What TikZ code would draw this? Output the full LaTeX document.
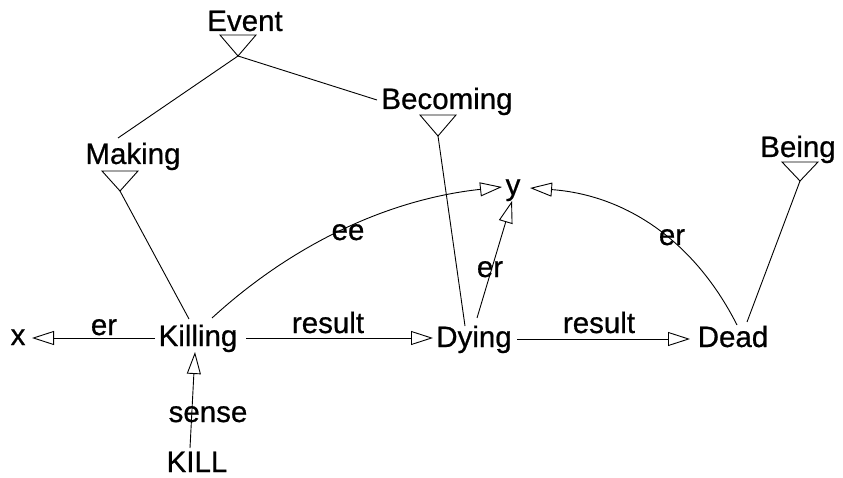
\documentclass[tikz,border=0pt]{standalone}
\usepackage{fontspec}
\setmainfont{Liberation Sans}
\newfontfamily\lblfont{Liberation Sans}[FakeBold=0.7]
\usetikzlibrary{arrows.meta}
\begin{document}
\begin{tikzpicture}[x=1pt,y=-1pt,
  lbl/.style={anchor=base,inner sep=0pt,font=\lblfont\fontsize{29.5}{31}\selectfont},
  conn/.style={line width=0.9pt},
  arr/.style={conn,-{Triangle[open,length=22pt,width=14pt]}},
  isatri/.style={line width=0.9pt,line join=miter}]
\path[use as bounding box] (0,0) rectangle (843,478);

% words
\node[lbl] (event) at (245,31) {Event};
\node[lbl] (making) at (133,164) {Making};
\node[lbl] (becoming) at (447,109) {Becoming};
\node[lbl] (being) at (798,157) {Being};
\node[lbl] (y) at (513,195) {y};
\node[lbl] (x) at (18,345) {x};
\node[lbl] (killing) at (198,346) {Killing};
\node[lbl] (dying) at (474,347) {Dying};
\node[lbl] (dead) at (733,347) {Dead};
\node[lbl] (kill) at (197,472) {KILL};

% isa triangles
\coordinate (eventA) at (238,56);
\coordinate (makingA) at (120,191);
\coordinate (becomingA) at (438,136);
\coordinate (beingA) at (800,181);
\draw[isatri] (eventA) -- ++(-18,-21) -- ++(36,0) -- cycle;
\draw[isatri] (makingA) -- ++(-18,-20) -- ++(36,0) -- cycle;
\draw[isatri] (becomingA) -- ++(-18,-21) -- ++(36,0) -- cycle;
\draw[isatri] (beingA) -- ++(-18,-19) -- ++(36,0) -- cycle;

% isa lines
\coordinate (makingTop) at (118,138);
\coordinate (becomingL) at (377,100);
\coordinate (killingTop) at (189,319);
\coordinate (dyingTop) at (465,326);
\coordinate (deadTop) at (747,322);
\draw[conn] (eventA) -- (makingTop);
\draw[conn] (eventA) -- (becomingL);
\draw[conn] (makingA) -- (killingTop);
\draw[conn] (becomingA) -- (dyingTop);
\draw[conn] (beingA) -- (deadTop);

% straight arrows
\coordinate (killingL) at (155,338);
\coordinate (xR) at (32,338);
\coordinate (killingR) at (246,338);
\coordinate (dyingL) at (433,338);
\coordinate (dyingR) at (517,339);
\coordinate (deadL) at (690,339);
\coordinate (killB) at (190,448);
\coordinate (killingB) at (195,352);
\coordinate (dyingTR) at (477,318);
\coordinate (yB) at (512,201);
\draw[arr] (killingL) -- (xR);
\draw[arr] (killingR) -- (dyingL);
\draw[arr] (dyingR) -- (deadL);
\draw[arr] (killB) -- (killingB);
\draw[arr] (dyingTR) -- (yB);

% curved arrows
\coordinate (killingTR) at (212,318);
\coordinate (yL) at (502,187);
\coordinate (deadTL) at (737,325);
\coordinate (yR) at (530,188);
\draw[arr] (killingTR) .. controls (295,242) and (391,199) .. (yL);
\draw[arr] (deadTL) .. controls (694,240) and (625,195) .. (yR);

% relation labels
\node[lbl] (erx) at (104,335) {er};
\node[lbl] (result1) at (328,333) {result};
\node[lbl] (result2) at (599,333) {result};
\node[lbl] (ee) at (348,240) {ee};
\node[lbl] (ery1) at (490,277) {er};
\node[lbl] (ery2) at (672,245) {er};
\node[lbl] (sense) at (208,422) {sense};
\end{tikzpicture}
\end{document}
